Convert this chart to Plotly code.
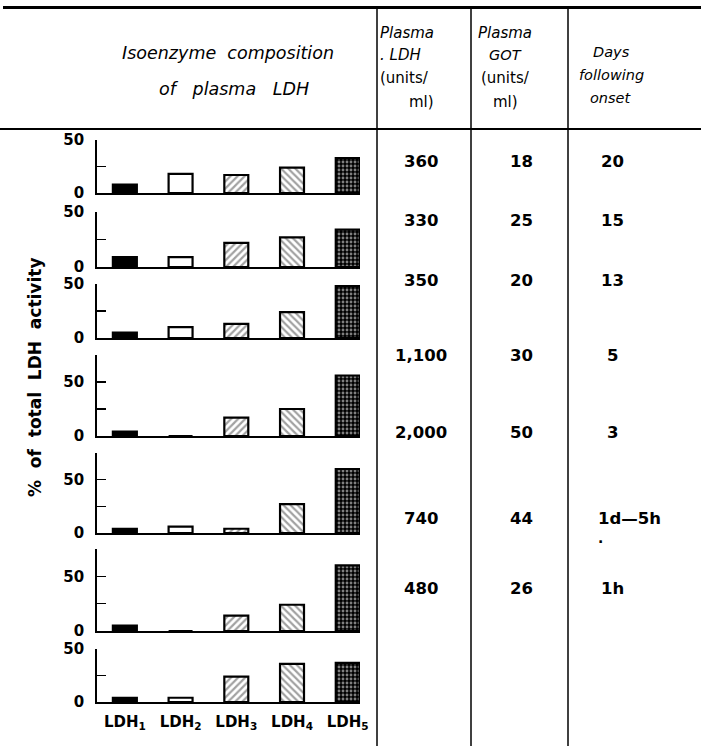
import plotly.graph_objects as go

# ---------------- data ----------------
isoenzymes = ["LDH<sub>1</sub>", "LDH<sub>2</sub>", "LDH<sub>3</sub>", "LDH<sub>4</sub>", "LDH<sub>5</sub>"]

# % of total LDH activity, one list per sample (rows top to bottom)
pct_day20 = [8, 18, 17, 24, 33]
pct_day15 = [9, 9, 22, 27, 34]
pct_day13 = [5, 10, 13, 24, 48]
pct_day5 = [4, 0, 17, 25, 56]
pct_day3 = [4, 6, 4, 27, 60]
pct_1d5h = [5, 0, 14, 24, 60]
pct_1h = [4, 4, 24, 36, 37]
samples = [pct_day20, pct_day15, pct_day13, pct_day5, pct_day3, pct_1d5h, pct_1h]

plasma_ldh = ["360", "330", "350", "1,100", "2,000", "740", "480"]
plasma_got = ["18", "25", "20", "30", "50", "44", "26"]
days_following = ["20", "15", "13", "5", "3", "1d\u20145h", "1h"]

y_tops = [50, 50, 50, 75, 75, 75, 50]

# ---------------- layout helpers ----------------
W, H = 701, 746
def fx(x):
    return x / W
def fy(y):
    return 1 - y / H

# panel pixel extents (top, bottom)
panel_px = [(140, 193), (212, 267), (284, 338), (355, 436), (453, 533), (549, 631), (649, 702)]
row_y = [161, 221, 280, 355, 432, 518, 588]

bar_colors = ["black", "white", "white", "white", "black"]
bar_shapes = ["", "", "/", "\\", "."]
bar_fg = ["black", "black", "black", "black", "white"]
bar_bg = ["white", "white", "white", "white", "black"]
bar_sizes = [6, 6, 5, 5, 4]
bar_solid = [0.3, 0.3, 0.45, 0.45, 0.4]

BOLD = dict(family="DejaVu Sans", weight="bold", color="black")

fig = go.Figure()
layout_axes = {}
n = len(samples)
for i, vals in enumerate(samples):
    k = "" if i == 0 else str(i + 1)
    fig.add_trace(go.Bar(
        x=list(range(len(isoenzymes))), y=vals,
        xaxis="x" + k, yaxis="y" + k,
        width=0.43,
        marker=dict(color=bar_colors, line=dict(color="black", width=2.2),
                    pattern=dict(shape=bar_shapes, fgcolor=bar_fg, bgcolor=bar_bg,
                                 size=bar_sizes, solidity=bar_solid)),
        showlegend=False, hoverinfo="skip",
    ))
    top_px, bot_px = panel_px[i]
    ytop = y_tops[i]
    minor_vals = [25] + ([75] if ytop == 75 else [])
    last = (i == n - 1)
    layout_axes["xaxis" + k] = dict(
        domain=[fx(97), fx(360)], range=[-0.5, 4.22], anchor="y" + k,
        showline=True, linecolor="black", linewidth=2, showgrid=False, zeroline=False,
        ticks="", tickvals=list(range(len(isoenzymes))), ticktext=isoenzymes,
        showticklabels=last, tickfont=dict(size=15, **BOLD), ticklabelstandoff=5,
        fixedrange=True,
    )
    layout_axes["yaxis" + k] = dict(
        domain=[fy(bot_px), fy(top_px)], range=[0, ytop], anchor="x" + k,
        showline=True, linecolor="black", linewidth=1.8, showgrid=False, zeroline=False,
        ticks="inside", ticklen=9, tickwidth=1.4, tickcolor="black",
        tickvals=[0, 50], ticktext=["0", "50"], tickfont=dict(size=15, **BOLD), ticklabelstandoff=8,
        minor=dict(tickvals=minor_vals, ticks="inside", ticklen=9, tickwidth=1.4, tickcolor="black", showgrid=False),
        fixedrange=True,
    )

shapes = []
# top rule and header rule
shapes.append(dict(type="line", xref="paper", yref="paper", x0=fx(3), x1=fx(701), y0=fy(7.5), y1=fy(7.5), line=dict(color="black", width=3)))
shapes.append(dict(type="line", xref="paper", yref="paper", x0=fx(0), x1=fx(701), y0=fy(129), y1=fy(129), line=dict(color="black", width=2)))
for xv in [377, 471, 568]:
    shapes.append(dict(type="line", xref="paper", yref="paper", x0=fx(xv), x1=fx(xv), y0=fy(7.5), y1=fy(746), line=dict(color="black", width=1.5)))

ann = []
def txt(x, y, s, size=15, font=None, xanchor="center", angle=0):
    f = dict(size=size, family="DejaVu Sans", color="black")
    if font:
        f.update(font)
    ann.append(dict(x=fx(x), y=fy(y), xref="paper", yref="paper", text=s, showarrow=False,
                    xanchor=xanchor, yanchor="middle", font=f, textangle=angle))

# headers
txt(228, 53, "<i>Isoenzyme  composition</i>", size=17.5)
txt(234, 89, "<i>of   plasma   LDH</i>", size=17.5)
for yy, s in zip([33, 55, 78, 102], ["<i>Plasma</i>", "<i>. LDH</i>", "(units/", "ml)"]):
    txt(378 if s != "ml)" else 421, yy, s, size=15, xanchor="left" if s != "ml)" else "center")
for yy, s in zip([33, 55, 78, 102], ["<i>Plasma</i>", "<i>GOT</i>", "(units/", "ml)"]):
    txt(505, yy, s, size=15 if s != "<i>GOT</i>" else 14.5)
for yy, s in zip([52, 75, 98], ["<i>Days</i>", "<i>following</i>", "<i>onset</i>"]):
    txt(611, yy, s, size=14.5)

# table values
for i in range(n):
    txt(421, row_y[i], plasma_ldh[i], size=16.5, font=dict(weight="bold"))
    txt(521, row_y[i], plasma_got[i], size=16.5, font=dict(weight="bold"))
    if len(days_following[i]) > 2:
        txt(596, row_y[i], days_following[i], size=16.5, font=dict(weight="bold"), xanchor="left")
    else:
        txt(612, row_y[i], days_following[i], size=16.5, font=dict(weight="bold"))
txt(600, 538, ".", size=14, font=dict(weight="bold"))

# y title
txt(35, 378, "%  of  total  LDH  activity", size=17, font=dict(weight="bold"), angle=-90)

fig.update_layout(
    width=W, height=H, margin=dict(l=0, r=0, t=0, b=0, autoexpand=False),
    paper_bgcolor="white", plot_bgcolor="white",
    shapes=shapes, annotations=ann, bargap=0,
    **layout_axes,
)
fig.write_html(
    "out.html",
    config={"displayModeBar": False, "staticPlot": True},
    post_script=(
        "document.body.style.margin='0';document.body.style.padding='0';"
        "document.body.style.overflow='hidden';"
        "var gd=document.getElementById('{plot_id}');"
        "gd.style.position='absolute';gd.style.left='0px';gd.style.top='0px';"
    ),
)
